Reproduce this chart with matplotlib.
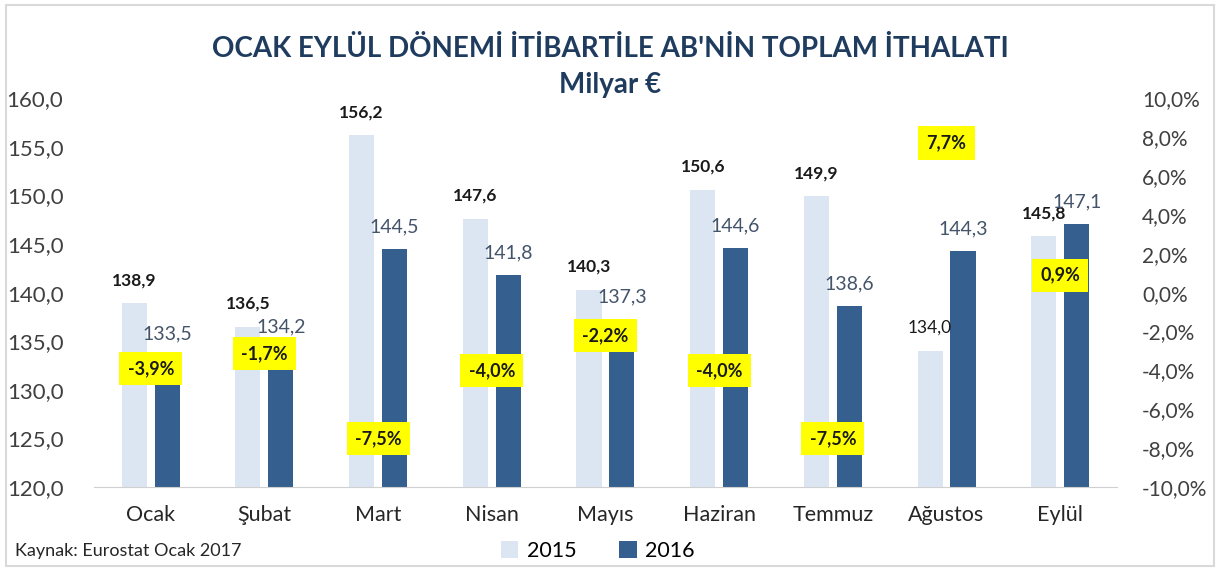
import matplotlib
matplotlib.use('Agg')
import matplotlib.pyplot as plt
import numpy as np
from matplotlib.patches import Rectangle

plt.rcParams['font.family'] = ['Lato', 'DejaVu Sans']

months = ['Ocak', 'Şubat', 'Mart', 'Nisan', 'Mayıs', 'Haziran', 'Temmuz', 'Ağustos', 'Eylül']
y2015 = [138.9, 136.5, 156.2, 147.6, 140.3, 150.6, 149.9, 134.0, 145.8]
y2016 = [133.5, 134.2, 144.5, 141.8, 137.3, 144.6, 138.6, 144.3, 147.1]
change = [-3.9, -1.7, -7.5, -4.0, -2.2, -4.0, -7.5, 7.7, 0.9]

c15 = '#dce6f2'
c16 = '#355f8f'

def tr(v, fmt='{:.1f}'):
    return fmt.format(v).replace('.', ',')

fig = plt.figure(figsize=(12.2, 5.71), dpi=100)
ax = fig.add_axes([0.077, 0.147, 0.8386, 0.681])
x = np.arange(len(months))
w = 0.22
off = 0.145
ax.bar(x - off, [v - 120 for v in y2015], w, bottom=120, color=c15, label='2015')
ax.bar(x + off, [v - 120 for v in y2016], w, bottom=120, color=c16, label='2016')

ax.set_xlim(-0.5, len(months) - 0.5)
ax.set_ylim(120, 160)
ax.set_yticks(np.arange(120, 161, 5))
ax.set_yticklabels([tr(t) for t in np.arange(120, 161, 5)], fontsize=16, color='#404040')
ax.set_xticks(x)
ax.set_xticklabels(months, fontsize=15.5, color='#262626')
ax.tick_params(axis='y', length=0, pad=22)
ax.tick_params(axis='x', length=0, pad=13)
for s in ['top', 'right', 'left']:
    ax.spines[s].set_visible(False)
ax.spines['bottom'].set_color('#d0d0d0')

# value labels
for i in range(len(months)):
    bold = 'normal' if i == 7 else 'bold'
    ax.annotate(tr(y2015[i]), (x[i] - off, y2015[i]), xytext=(0, 13),
                textcoords='offset points', ha='center', fontsize=12.5,
                fontweight=bold, color='#1a1a1a')
    ax.annotate(tr(y2016[i]), (x[i] + off, y2016[i]), xytext=(0, 12),
                textcoords='offset points', ha='center', fontsize=14,
                color='#44546a')

ax2 = ax.twinx()
ax2.set_ylim(-10, 10)
ax2.set_yticks(np.arange(-10, 11, 2))
ax2.set_yticklabels([tr(t) + '%' for t in np.arange(-10, 11, 2)], fontsize=15, color='#404040')
ax2.tick_params(axis='y', length=0, pad=18)
for s in ['top', 'right', 'left', 'bottom']:
    ax2.spines[s].set_visible(False)

for i, p in enumerate(change):
    dy = -20 if i == 1 else 0  # Şubat label pushed down under the value label
    ax2.annotate(tr(p) + '%', (x[i], p), xytext=(0, dy), textcoords='offset points',
                 ha='center', va='center', fontsize=13,
                 fontweight='bold', color='#1a1a1a',
                 bbox=dict(boxstyle='square,pad=0.45', facecolor='#ffff00', edgecolor='none'))

fig.text(0.5, 0.915, "OCAK EYLÜL DÖNEMİ İTİBARTİLE AB'NİN TOPLAM İTHALATI",
         ha='center', va='center', fontsize=20, fontweight='bold', color='#1f3c5e')
fig.text(0.5, 0.851, 'Milyar €', ha='center', va='center', fontsize=20,
         fontweight='bold', color='#1f3c5e')

fig.text(0.012, 0.035, 'Kaynak: Eurostat Ocak 2017', fontsize=13, color='#262626', va='center')

leg = ax.legend(loc='center', ncol=2, frameon=False, fontsize=15.5, handlelength=0.8,
                handleheight=0.8, columnspacing=2.0, handletextpad=0.4)
leg.set_bbox_to_anchor((0.49, 0.035), transform=fig.transFigure)

fig.patches.append(Rectangle((0.005, 0.008), 0.99, 0.984, transform=fig.transFigure,
                             fill=False, edgecolor='#d9d9d9', linewidth=1.5))

fig.savefig('out.png', dpi=100)
